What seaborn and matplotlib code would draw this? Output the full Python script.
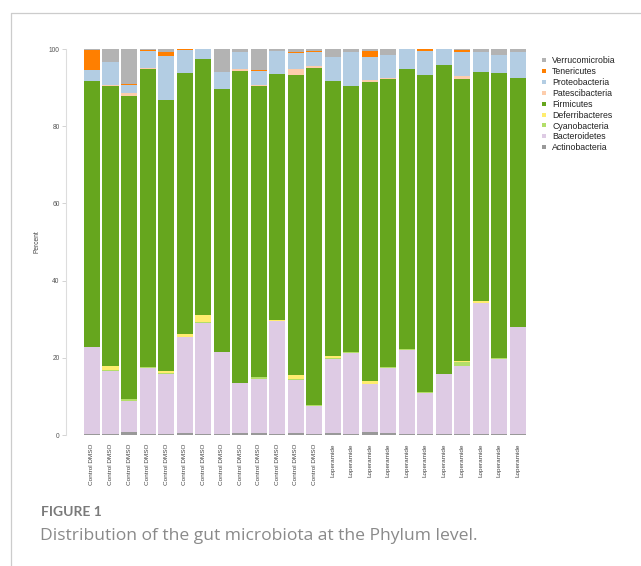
import matplotlib
matplotlib.use("Agg")
import matplotlib.pyplot as plt
from matplotlib.lines import Line2D
import pandas as pd
import seaborn as sns

# sample groups (13 control, 11 loperamide)
groups = ["Control DMSO"] * 13 + ["Loperamide"] * 11

# relative abundance (%) per phylum
actinobacteria = [0.3, 0.3, 0.7, 0.3, 0.3, 0.5, 0.2, 0.3, 0.4, 0.4, 0.2, 0.4, 0.3,
                  0.6, 0.3, 0.8, 0.4, 0.3, 0.3, 0.3, 0.3, 0.3, 0.3, 0.3]
bacteroidetes = [22.4, 16.3, 8.2, 17.0, 15.5, 25.0, 28.9, 21.1, 13.0, 14.2, 29.4, 13.9, 7.3,
                 19.1, 21.0, 12.3, 17.0, 21.8, 10.6, 15.4, 17.7, 33.8, 19.5, 27.6]
cyanobacteria = [0.2, 0.3, 0.4, 0.3, 0.2, 0.0, 0.3, 0.2, 0.2, 0.3, 0.0, 0.3, 0.2,
                 0.2, 0.2, 0.2, 0.3, 0.2, 0.2, 0.2, 0.8, 0.0, 0.2, 0.2]
deferribacteres = [0.0, 1.0, 0.0, 0.0, 0.5, 0.7, 1.7, 0.0, 0.0, 0.0, 0.3, 0.9, 0.0,
                   0.5, 0.0, 0.6, 0.0, 0.0, 0.0, 0.0, 0.3, 0.6, 0.0, 0.0]
firmicutes = [68.7, 72.5, 78.6, 77.2, 70.4, 67.5, 66.3, 68.0, 80.8, 75.6, 63.5, 77.8, 87.2,
              71.3, 69.0, 77.6, 74.4, 72.6, 82.1, 80.0, 73.2, 59.3, 73.9, 64.5]
patescibacteria = [0.0, 0.4, 0.6, 0.4, 0.0, 0.0, 0.0, 0.0, 0.4, 0.2, 0.2, 1.4, 0.5,
                   0.0, 0.0, 0.5, 0.4, 0.0, 0.0, 0.0, 0.8, 0.0, 0.0, 0.0]
proteobacteria = [3.0, 5.9, 2.1, 4.3, 11.4, 6.0, 2.6, 4.5, 4.3, 3.7, 5.9, 4.2, 3.8,
                  6.1, 8.6, 5.8, 5.9, 5.1, 6.3, 4.1, 6.2, 5.3, 4.5, 6.7]
tenericutes = [5.1, 0.0, 0.3, 0.3, 0.9, 0.3, 0.0, 0.0, 0.0, 0.2, 0.0, 0.4, 0.2,
               0.0, 0.0, 1.7, 0.0, 0.0, 0.5, 0.0, 0.5, 0.0, 0.0, 0.0]
verrucomicrobia = [0.3, 3.3, 9.1, 0.2, 0.8, 0.0, 0.0, 5.9, 0.9, 5.4, 0.5, 0.7, 0.5,
                   2.2, 0.9, 0.5, 1.6, 0.0, 0.0, 0.0, 0.2, 0.7, 1.6, 0.7]

# bottom -> top stacking order
phyla = ["Actinobacteria", "Bacteroidetes", "Cyanobacteria", "Deferribacteres",
         "Firmicutes", "Patescibacteria", "Proteobacteria", "Tenericutes",
         "Verrucomicrobia"]
colors = ["#999999", "#decbe4", "#b3de69", "#ffed6f", "#66a61e",
          "#fdcdac", "#b3cde3", "#ff7f00", "#b3b3b3"]

df = pd.DataFrame({
    "Actinobacteria": actinobacteria,
    "Bacteroidetes": bacteroidetes,
    "Cyanobacteria": cyanobacteria,
    "Deferribacteres": deferribacteres,
    "Firmicutes": firmicutes,
    "Patescibacteria": patescibacteria,
    "Proteobacteria": proteobacteria,
    "Tenericutes": tenericutes,
    "Verrucomicrobia": verrucomicrobia,
})
df["sample"] = [f"S{i + 1}" for i in range(len(groups))]
cum = df[phyla].cumsum(axis=1)
cum["sample"] = df["sample"]

sns.set_theme(style="white")
plt.rcParams["font.family"] = ["Liberation Sans", "DejaVu Sans"]

fig = plt.figure(figsize=(6.41, 5.66), dpi=100)
ax = fig.add_axes([66 / 641, 131 / 566, 461 / 641, 386 / 566])

# draw cumulative totals from the top layer down so each layer shows
for name, col in zip(phyla[::-1], colors[::-1]):
    sns.barplot(data=cum, x="sample", y=name, color=col, saturation=1,
                width=0.865, linewidth=0, errorbar=None, ax=ax)

ax.set_xlim(-1.405, 23.51)
ax.set_ylim(0, 100)
ax.set_yticks([0, 20, 40, 60, 80, 100])
ax.set_xticks(range(len(groups)))
ax.set_xticklabels(groups, rotation=90, fontsize=4.6, color="#444444")
ax.tick_params(axis="x", length=0, pad=6)
ax.tick_params(axis="y", left=True, length=2.6, width=0.6, color="#cccccc",
               labelsize=4.8, labelcolor="#555555", pad=2)
ax.set_xlabel("")
ax.set_ylabel("Percent", fontsize=4.8, color="#444444", labelpad=6)
for s in ["top", "right", "bottom"]:
    ax.spines[s].set_visible(False)
ax.spines["left"].set_color("#dddddd")
ax.spines["left"].set_linewidth(0.8)

handles = [Line2D([0], [0], marker="s", linestyle="none", markersize=3.3,
                  markerfacecolor=c, markeredgewidth=0)
           for c in colors[::-1]]
fig.legend(handles, phyla[::-1], loc="upper left",
           bbox_to_anchor=(540 / 641, 1 - 56 / 566), frameon=False,
           fontsize=6.3, labelspacing=0.22, handlelength=0.8,
           handletextpad=0.6, borderpad=0, borderaxespad=0,
           labelcolor="#222222")

# page frame
fig.add_artist(Line2D([11 / 641, 1], [1 - 13 / 566, 1 - 13 / 566],
                      color="#cccccc", lw=0.9))
fig.add_artist(Line2D([11 / 641, 11 / 641], [0, 1 - 13 / 566],
                      color="#cccccc", lw=0.9))

fig.text(41 / 641, 1 - 512 / 566, "FIGURE 1", fontsize=10, fontweight="bold",
         color="#7a7a7a", va="center", ha="left", family=["Lato", "DejaVu Sans"])
fig.text(40 / 641, 1 - 536 / 566,
         "Distribution of the gut microbiota at the Phylum level.",
         fontsize=12.6, color="#8a8a8a", va="center", ha="left",
         family=["Open Sans", "DejaVu Sans"])

fig.savefig("out.png", dpi=100)
